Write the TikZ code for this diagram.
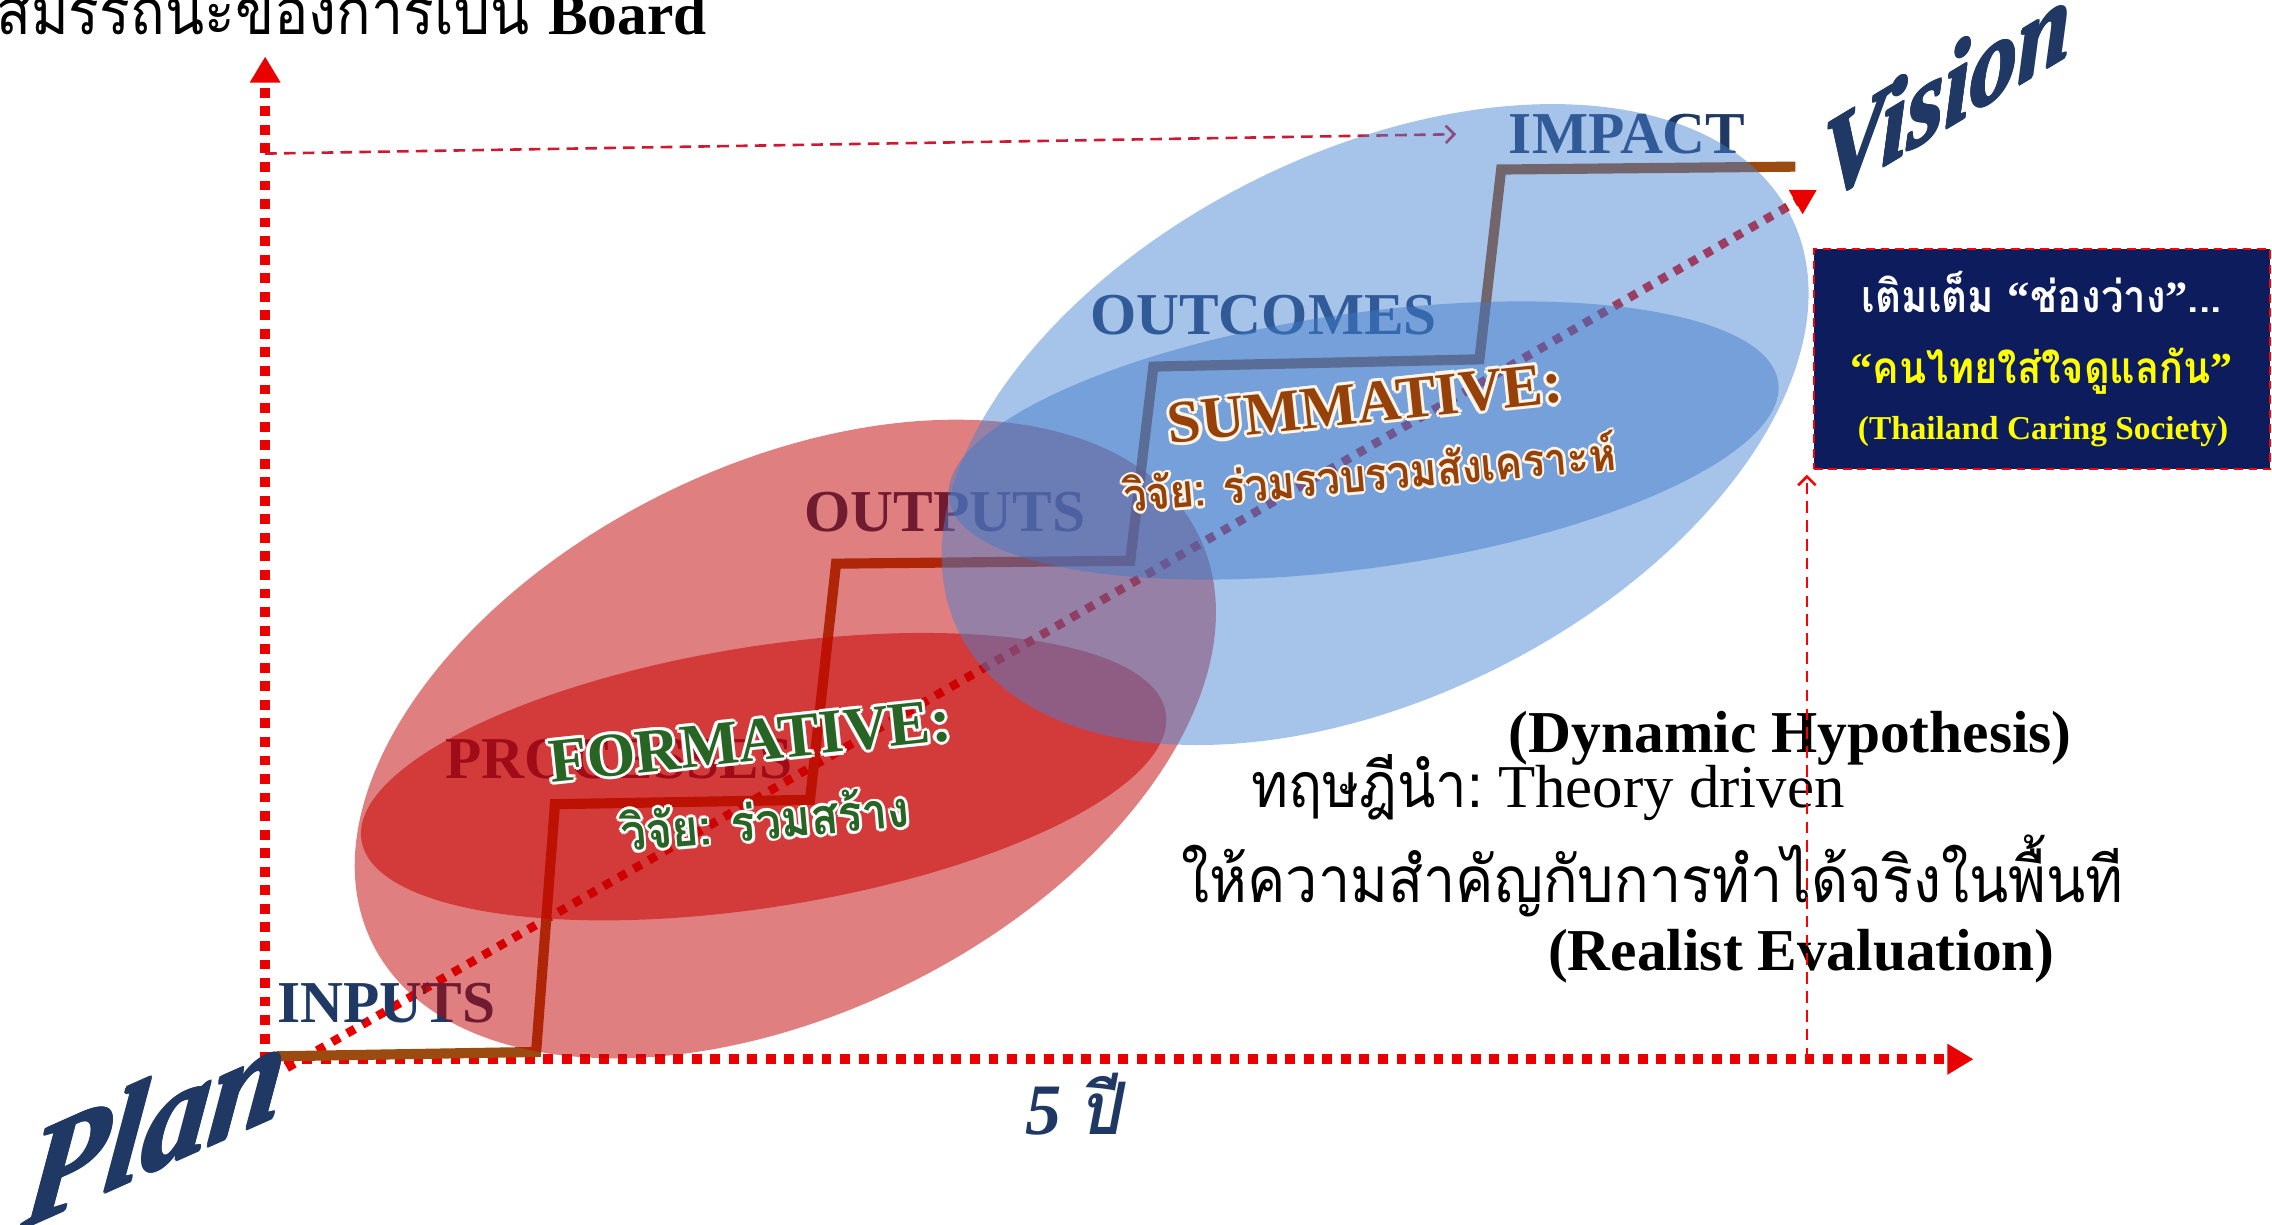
\documentclass[tikz,border=0pt]{standalone}
\usepackage{fontspec}
\usepackage{graphicx}
\setmainfont{Liberation Serif}
\newfontfamily\thai[Script=Thai,FakeStretch=0.9]{Loma}
\usetikzlibrary{arrows.meta}
\definecolor{navy}{RGB}{31,56,100}
\definecolor{boxnavy}{RGB}{12,28,92}
\definecolor{stairc}{RGB}{155,75,15}
\definecolor{redA}{RGB}{195,0,0}
\definecolor{redB}{RGB}{200,0,0}
\definecolor{blueA}{RGB}{70,130,210}
\definecolor{blueB}{RGB}{60,120,200}
\definecolor{formgreen}{RGB}{40,100,35}
\definecolor{sumbrown}{RGB}{150,65,10}
\definecolor{sumhalo}{RGB}{255,245,230}
\definecolor{dashred}{RGB}{205,25,50}
\definecolor{axred}{RGB}{235,0,0}
\definecolor{boxyellow}{RGB}{255,255,0}
\newcommand\fsz[1]{\fontsize{#1}{#1}\selectfont}
\newsavebox\halobox
\newlength\halor
\setlength\halor{1.1pt}
\newcommand\halo[3]{%
  \setbox\halobox=\hbox{#3}%
  \rlap{\color{#1}\hspace*{\halor}\usebox\halobox}%
  \rlap{\color{#1}\hspace*{-\halor}\usebox\halobox}%
  \rlap{\color{#1}\raisebox{\halor}{\usebox\halobox}}%
  \rlap{\color{#1}\raisebox{-\halor}{\usebox\halobox}}%
  \rlap{\color{#1}\hspace*{.7\halor}\raisebox{.7\halor}{\usebox\halobox}}%
  \rlap{\color{#1}\hspace*{-.7\halor}\raisebox{.7\halor}{\usebox\halobox}}%
  \rlap{\color{#1}\hspace*{.7\halor}\raisebox{-.7\halor}{\usebox\halobox}}%
  \rlap{\color{#1}\hspace*{-.7\halor}\raisebox{-.7\halor}{\usebox\halobox}}%
  {\color{#2}\usebox\halobox}}
\tikzset{
  axis/.style={draw=axred, line width=3.4pt, dash pattern=on 3.4pt off 3pt, -{Triangle[length=9pt,width=10pt]}},
  diag/.style={draw=axred, line width=3pt, dash pattern=on 3pt off 3pt, -{Triangle[length=8.5pt,width=9pt]}},
  thinarrow/.style={draw=dashred, line width=0.9pt, dash pattern=on 4pt off 2.5pt, -{Straight Barb[length=3pt,width=6pt]}},
  stair/.style={draw=stairc, line width=3.5pt, line join=miter},
  lbl/.style={anchor=base west, inner sep=0, font=\fsz{20.5}\bfseries, text=navy},
  txt/.style={anchor=base west, inner sep=0},
}
\begin{document}
\begin{tikzpicture}[x=0.5pt,y=-0.5pt]
\useasboundingbox (0,0) rectangle (1568,845);
\fill[white] (0,0) rectangle (1568,845);
% coordinates
\coordinate (O) at (183,733);
\coordinate (ytip) at (183,39);
\coordinate (xO) at (183,731);
\coordinate (xtip) at (1362,731);
\coordinate (dstart) at (198,737);
\coordinate (dtip) at (1254,131);
\coordinate (ta) at (183,106);
\coordinate (vfoot) at (1247,731);
% axes
\draw[axis] (O) -- (ytip);
\draw[axis] (xO) -- (xtip);
\draw[diag] (dstart) -- (dtip);
% staircase
\draw[stair] (191,729) -- (370,726) -- (383,555) -- (559,552) -- (577,389) -- (780,387) -- (796,253) -- (1021,248) -- (1036,117) -- (1239,115);
% labels under the ellipses
\node[lbl] (inputs) at (191,706) {INPUTS};
\node[lbl] (processes) at (307,537) {PROCESSES};
\node[lbl] (outputs) at (555,367) {OUTPUTS};
\node[lbl] (outcomes) at (752,231) {OUTCOMES};
\node[lbl] (impact) at (1041,106) {IMPACT};
\draw[thinarrow] (ta) -- ([xshift=-18pt]impact.west);
% ellipses
\fill[redA, fill opacity=0.5, rotate around={26.3:(542,510)}] (542,510) ellipse [x radius=159pt, y radius=94.5pt];
\fill[redB, fill opacity=0.53, rotate around={9:(527,536)}] (527,536) ellipse [x radius=140.5pt, y radius=45pt];
\fill[blueA, fill opacity=0.48, rotate around={26.6:(949,293)}] (949,293) ellipse [x radius=160.5pt, y radius=94pt];
\fill[blueB, fill opacity=0.46, rotate around={8:(941,304)}] (941,304) ellipse [x radius=144.5pt, y radius=44pt];
% overlay texts
\node[txt, rotate=6] (form) at (380,540) {\fsz{21.5}\bfseries\halo{white}{formgreen}{FORMATIVE:}};
\node[txt, rotate=5] (formth) at (429,588) {\resizebox{100pt}{!}{\fsz{20}\halo{white}{formgreen}{\thai\bfseries วิจัย: ร่วมสร้าง}}};
\node[txt, rotate=6] (summ) at (807,306) {\fsz{20.75}\bfseries\halo{sumhalo}{sumbrown}{SUMMATIVE:}};
\node[txt, rotate=5] (summth) at (776,354) {\resizebox{170.5pt}{!}{\fsz{20}\halo{sumhalo}{sumbrown}{\thai\bfseries วิจัย: ร่วมรวบรวมสังเคราะห์}}};
% title
\node[txt] (titleth) at (-3,24) {\resizebox{184pt}{!}{\fsz{20}\thai สมรรถนะของการเป็น}};
\node[txt, font=\fsz{20.5}\bfseries] (board) at (378,24) {Board};
% Plan / Vision
\node[txt, rotate=24, xslant=0.6, xscale=1.17] (plan) at (14,849) {\fsz{43}\bfseries\itshape\setlength\halor{0.5pt}\halo{navy}{navy}{Plan}};
\node[txt, rotate=31, xslant=0.6, xscale=1.12] (vision) at (1258,140) {\fsz{34}\bfseries\itshape\setlength\halor{0.45pt}\halo{navy}{navy}{Vision}};
\node[txt, text=navy] (five) at (707,783) {\fsz{25}\bfseries\itshape 5 {\thai ปี}};
% right texts
\node[txt, font=\fsz{20.5}\bfseries] (dyn) at (1041,519) {(Dynamic Hypothesis)};
\node[txt] (theory) at (863,557) {\resizebox{80pt}{!}{\fsz{20}\thai ทฤษฎีนำ:}\fsz{21}\ Theory driven};
\node[txt] (real) at (815,623) {\resizebox{325pt}{!}{\fsz{20}\thai ให้ความสำคัญกับการทำได้จริงในพื้นที}};
\node[txt, font=\fsz{20.5}\bfseries] (realist) at (1068,670) {(Realist Evaluation)};
% box
\node[fill=boxnavy, draw=red, line width=0.8pt, dash pattern=on 3pt off 2pt, minimum width=157.5pt, minimum height=76pt, anchor=north west, inner sep=0] (box) at (1251,171) {};
\node[anchor=base, inner sep=0, text=white] (b1) at (1409,216) {\resizebox{124pt}{!}{\fsz{20}\thai\bfseries เติมเต็ม {\rmfamily “}ช่องว่าง{\rmfamily ”}...}};
\node[anchor=base, inner sep=0, text=boxyellow] (b2) at (1409,265) {\resizebox{132pt}{!}{\fsz{20}\thai\bfseries {\rmfamily “}คนไทยใส่ใจดูแลกัน{\rmfamily ”}}};
\node[anchor=base, inner sep=0, text=boxyellow, font=\fsz{11.5}\bfseries] (b3) at (1410,303) {(Thailand Caring Society)};
\draw[thinarrow, draw=red] (vfoot) -- ([yshift=-1.5pt]vfoot |- box.south);
\end{tikzpicture}
\end{document}
